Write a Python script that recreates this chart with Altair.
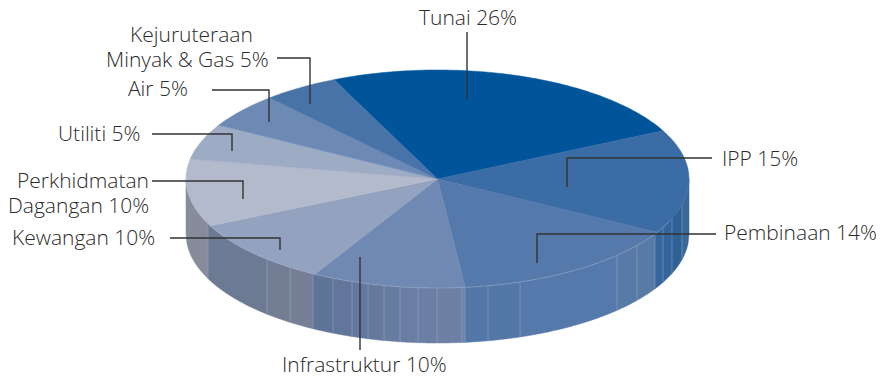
import math
import altair as alt

# --- values ---
categories = ["Tunai", "IPP", "Pembinaan", "Infrastruktur", "Kewangan",
              "Perkhidmatan Dagangan", "Utiliti", "Air", "Kejuruteraan Minyak & Gas"]
drawn_shares = [24.44, 15.44, 15.11, 9.86, 9.83, 10.0, 5.3, 5.14, 4.88]
top_colors = ["#00559a", "#3b6ca6", "#5679ab", "#7089b3", "#92a2bf",
              "#b3bacb", "#9dabc5", "#6d8ab4", "#4873a9"]
start_angle = -24.3

wall_seams = [186, 208, 267, 290, 313, 333, 352, 368, 384, 400, 418, 437, 462,
              465, 488, 520, 617, 637, 655, 663, 672, 682, 689]
wall_colors = ["#878c9a", "#6c7a93", "#727d94", "#767f96", "#5f7499", "#62769b",
               "#63789e", "#65799f", "#677ca1", "#6a7ea4", "#6b7fa5", "#6e80a6",
               "#6f81a6", "#5378a8", "#5378a8", "#5579aa", "#587aa8", "#5a7aa6",
               "#35679d", "#33659b", "#2f6197", "#3a6899"]

label_texts = ["Tunai 26%", "IPP 15%", "Pembinaan 14%", "Infrastruktur 10%", "Kewangan 10%",
               "Perkhidmatan", "Dagangan 10%", "Utiliti 5%", "Air 5%", "Kejuruteraan",
               "Minyak & Gas 5%"]
label_x = [419, 722, 724, 282, 12, 17, 8, 58, 128, 130, 106]
label_y = [25, 166, 240, 372, 245, 188, 213, 141, 96, 42, 67]

leaders = [
    [(467, 32), (467, 100)],
    [(712, 158), (567, 158), (567, 187)],
    [(716, 234), (537, 234), (537, 263)],
    [(360, 257), (360, 350)],
    [(170, 238), (280, 238), (280, 250)],
    [(152, 181), (243, 181), (243, 199)],
    [(152, 134), (232, 134), (232, 151)],
    [(212, 90), (269, 90), (269, 122)],
    [(277, 58), (310, 58), (310, 104)],
]

# pie geometry (page pixels)
CX, CY, RX, RY, DEPTH = 437.5, 179, 251.5, 109, 55


def feature(kind, coords, color):
    return {"type": "Feature", "properties": {"color": color},
            "geometry": {"type": kind, "coordinates": coords}}


def rim(x):
    t = max(0.0, 1 - ((x - CX) / RX) ** 2)
    return CY + RY * math.sqrt(t)


def xs_between(a, b):
    n = max(2, int(b - a) + 1)
    return [a + (b - a) * i / (n - 1) for i in range(n)]


# walls
wall_features = []
for i, col in enumerate(wall_colors):
    xs = xs_between(wall_seams[i], wall_seams[i + 1])
    ring = [[x, rim(x)] for x in xs] + [[x, rim(x) + DEPTH] for x in reversed(xs)]
    ring.append(ring[0])
    wall_features.append(feature("Polygon", [ring], col))

# seams
seam_features = [
    feature("LineString", [[x, rim(x)], [x, rim(x) + DEPTH]], "#b4bdd0")
    for x in wall_seams[1:-1]
]

# top slices
slice_features = []
a = start_angle
for share, col in zip(drawn_shares, top_colors):
    b = a + share * 3.6
    n = max(3, int(share * 4))
    ring = [[CX, CY]]
    for i in range(n + 1):
        ang = math.radians(a + (b - a) * i / n)
        ring.append([CX + RX * math.sin(ang), CY - RY * math.cos(ang)])
    ring.append([CX, CY])
    slice_features.append(feature("Polygon", [ring], col))
    a = b

# light rim on the front edge
rim_xs = xs_between(208, 670)
rim_feature = [feature("LineString", [[x, rim(x)] for x in rim_xs], "#a9b7cf")]

leader_features = [feature("LineString", [list(p) for p in l], "#333333") for l in leaders]

proj = alt.Projection(type="identity", scale=1, translate=[-8, -8])

color = alt.Color("properties.color:N", scale=None, legend=None)
stroke = alt.Stroke("properties.color:N", scale=None, legend=None)

walls = alt.Chart(alt.Data(values=wall_features)).mark_geoshape(strokeWidth=0.5).encode(fill=color, stroke=stroke).project(**proj.to_dict())
seams = alt.Chart(alt.Data(values=seam_features)).mark_geoshape(filled=False, strokeWidth=0.8, opacity=0.5).encode(stroke=stroke).project(**proj.to_dict())
tops = alt.Chart(alt.Data(values=slice_features)).mark_geoshape(strokeWidth=0.5).encode(fill=color, stroke=stroke).project(**proj.to_dict())
rimline = alt.Chart(alt.Data(values=rim_feature)).mark_geoshape(filled=False, strokeWidth=0.8, opacity=0.5).encode(stroke=stroke).project(**proj.to_dict())
lines = alt.Chart(alt.Data(values=leader_features)).mark_geoshape(filled=False, strokeWidth=1.4).encode(stroke=stroke).project(**proj.to_dict())

labels = alt.Chart(alt.Data(values=[
    {"t": t, "x": x, "y": y} for t, x, y in zip(label_texts, label_x, label_y)
])).mark_text(font="Open Sans", fontWeight=300, fontSize=21, align="left", baseline="alphabetic",
              color="#2b2b2b").encode(
    longitude="x:Q", latitude="y:Q", text="t:N"
).project(**proj.to_dict())

chart = alt.layer(walls, seams, tops, rimline, lines, labels).properties(
    width=868, height=368, padding=0,
    autosize=alt.AutoSizeParams(type="none")
).configure_view(stroke=None)

chart.save("out.html", embed_options={"renderer": "svg", "actions": False})
